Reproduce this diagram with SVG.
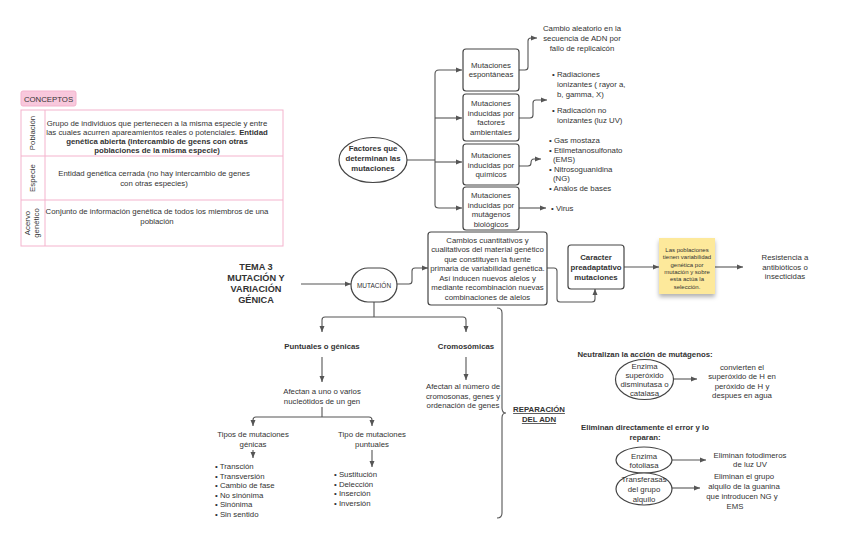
<svg xmlns="http://www.w3.org/2000/svg" width="848" height="540" viewBox="0 0 848 540">
<defs>
<marker id="ar" viewBox="0 0 6 6" refX="6" refY="3" markerWidth="6" markerHeight="6" markerUnits="userSpaceOnUse" orient="auto">
<path d="M0,0.5 L6,3 L0,5.5 z" fill="#555"/>
</marker>
<filter id="sh" x="-20%" y="-20%" width="140%" height="150%">
<feDropShadow dx="0" dy="3" stdDeviation="2" flood-color="#000" flood-opacity="0.3"/>
</filter>
</defs>
<style>
text{font-family:"Liberation Sans",Arial,sans-serif;font-size:7.8px;fill:#333}
.c{text-anchor:middle}
.b{font-weight:bold}
.box{fill:#fff;stroke:#444;stroke-width:1.2}
.ln{fill:none;stroke:#555;stroke-width:1.1}
.arr{fill:none;stroke:#555;stroke-width:1.1;marker-end:url(#ar)}
.pk{fill:none;stroke:#f4b3cd;stroke-width:1}
.sm{font-size:6px}
</style>
<rect width="848" height="540" fill="#fff"/>

<g id="conceptos">
<rect x="21" y="91" width="55" height="15" rx="2" fill="#f8c8dc" stroke="#f4b3cd"/>
<text x="48.5" y="102" class="c">CONCEPTOS</text>
<rect x="21" y="110" width="262" height="136" class="pk"/>
<line x1="45" y1="110" x2="45" y2="246" class="pk"/>
<line x1="21" y1="156" x2="283" y2="156" class="pk"/>
<line x1="21" y1="200" x2="283" y2="200" class="pk"/>
<text transform="translate(35,133) rotate(-90)" class="c">Población</text>
<text transform="translate(35,178) rotate(-90)" class="c">Especie</text>
<text transform="translate(30,223) rotate(-90)" class="c">Acervo</text>
<text transform="translate(39,223) rotate(-90)" class="c">genético</text>
<text x="157" y="126" class="c">Grupo de individuos que pertenecen a la misma especie y entre</text>
<text x="157" y="135" class="c">las cuales acurren apareamientos reales o potenciales. <tspan class="b">Entidad</tspan></text>
<text x="157" y="144" class="c b">genética abierta (intercambio de geens con otras</text>
<text x="157" y="153" class="c b">poblaciones de la misma especie)</text>
<text x="154" y="176" class="c">Entidad genética cerrada (no hay intercambio de genes</text>
<text x="154" y="186" class="c">con otras especies)</text>
<text x="157" y="214" class="c">Conjunto de información genética de todos los miembros de una</text>
<text x="157" y="224" class="c">población</text>
</g>

<g id="connectors">
<path class="ln" d="M407,160 H435 M435,74 V205"/>
<path class="arr" d="M435,74 Q435,70 439,70 H462"/>
<path class="arr" d="M435,118 H462"/>
<path class="arr" d="M435,162 H462"/>
<path class="arr" d="M435,205 Q435,208 439,208 H462"/>
<path class="arr" d="M519,70 H525 Q528,70 528,67 V41 Q528,38 531,38 H537"/>
<path class="arr" d="M519,118 H530 Q533,118 533,115 V103 Q533,100 536,100 H547"/>
<path class="arr" d="M519,166 H528 Q531,166 531,163 Q531,159 534,159 H541"/>
<path class="arr" d="M519,208 H546"/>
<path class="arr" d="M301,284 H351"/>
<path class="arr" d="M397,284 H409 Q412,284 412,281 V271 Q412,268 415,268 H428"/>
<path class="arr" d="M547,268 H554 Q557,268 557,271 V299 Q557,302 560,302 H592 Q595,302 595,299 V289"/>
<path class="arr" d="M624,267 H659"/>
<path class="arr" d="M715,267 H743"/>
<path class="ln" d="M374,302 V317 M325,317 H463"/>
<path class="arr" d="M325,317 Q322,317 322,320 V332"/>
<path class="arr" d="M463,317 Q466,317 466,320 V332"/>
<path class="arr" d="M322,357 V382"/>
<path class="arr" d="M466,357 V380"/>
<path class="ln" d="M322,407 V417 M256,417 H369"/>
<path class="arr" d="M256,417 Q253,417 253,420 V426"/>
<path class="arr" d="M369,417 Q372,417 372,420 V426"/>
<path class="arr" d="M253,450 V458"/>
<path class="arr" d="M372,450 V467"/>
<path class="ln" d="M497,308 Q502,308 502,313 V408 Q502,413 506,413 Q502,413 502,418 V513 Q502,518 497,518"/>
<path class="arr" d="M673,379 H697"/>
<path class="arr" d="M672,460 H706"/>
<path class="arr" d="M672,488 H700"/>
</g>

<g id="factores">
<ellipse cx="373" cy="160" rx="34" ry="22.5" class="box"/>
<text x="373" y="151" class="c b">Factores que</text>
<text x="373" y="161" class="c b">determinan las</text>
<text x="373" y="171" class="c b">mutaciones</text>
</g>

<g id="espontaneas">
<rect x="463" y="49" width="56" height="42" rx="3" class="box"/>
<text x="491" y="68" class="c">Mutaciones</text>
<text x="491" y="77" class="c">espontáneas</text>
</g>
<g id="ambientales">
<rect x="463" y="94" width="56" height="47" rx="3" class="box"/>
<text x="491" y="106" class="c">Mutaciones</text>
<text x="491" y="115.5" class="c">inducidas por</text>
<text x="491" y="125" class="c">factores</text>
<text x="491" y="134.5" class="c">ambientales</text>
</g>
<g id="quimicos">
<rect x="463" y="144" width="56" height="41" rx="3" class="box"/>
<text x="491" y="158" class="c">Mutaciones</text>
<text x="491" y="167.5" class="c">inducidas por</text>
<text x="491" y="177" class="c">químicos</text>
</g>
<g id="biologicos">
<rect x="463" y="187" width="56" height="43" rx="3" class="box"/>
<text x="491" y="198" class="c">Mutaciones</text>
<text x="491" y="207.5" class="c">inducidas por</text>
<text x="491" y="217" class="c">mutágenos</text>
<text x="491" y="226.5" class="c">biológicos</text>
</g>

<g id="cambio-aleatorio">
<text x="582" y="31" class="c">Cambio aleatorio en la</text>
<text x="582" y="41" class="c">secuencia de ADN por</text>
<text x="582" y="51" class="c">fallo de replicaicón</text>
</g>
<g id="radiaciones">
<text x="552" y="77">• Radiaciones</text>
<text x="557" y="87">ionizantes ( rayor a,</text>
<text x="557" y="97">b, gamma, X)</text>
<text x="552" y="113">• Radicación no</text>
<text x="557" y="123">ionizantes (luz UV)</text>
</g>
<g id="quimicos-lista">
<text x="549" y="143">• Gas mostaza</text>
<text x="549" y="152.5">• Etilmetanosulfonato</text>
<text x="553" y="162">(EMS)</text>
<text x="549" y="171.5">• Nitrosoguanidina</text>
<text x="553" y="181">(NG)</text>
<text x="549" y="190.5">• Análos de bases</text>
</g>
<g id="virus">
<text x="551" y="211">• Virus</text>
</g>

<g id="tema">
<text x="256" y="270" class="c b" style="font-size:9.2px">TEMA 3</text>
<text x="256" y="281" class="c b" style="font-size:9.2px">MUTACIÓN Y</text>
<text x="256" y="292" class="c b" style="font-size:9.2px">VARIACIÓN</text>
<text x="256" y="303" class="c b" style="font-size:9.2px">GÉNICA</text>
</g>

<g id="mutacion">
<rect x="351" y="268" width="46" height="34" rx="17" class="box"/>
<text x="374" y="287.5" class="c" style="font-size:6.5px">MUTACIÓN</text>
</g>

<g id="cambios">
<rect x="428" y="232" width="119" height="73" rx="3" class="box"/>
<text x="487.5" y="242.5" class="c">Cambios cuantitativos y</text>
<text x="487.5" y="252" class="c">cualitativos del material genético</text>
<text x="487.5" y="261.5" class="c">que constituyen la fuente</text>
<text x="487.5" y="271" class="c">primaria de variabilidad genética.</text>
<text x="487.5" y="280.5" class="c">Así inducen nuevos alelos y</text>
<text x="487.5" y="290" class="c">mediante recombinación nuevas</text>
<text x="487.5" y="299.5" class="c">combinaciones de alelos</text>
</g>

<g id="caracter">
<rect x="568" y="245" width="56" height="44" rx="3" class="box"/>
<text x="596" y="260" class="c b">Caracter</text>
<text x="596" y="270" class="c b">preadaptativo</text>
<text x="596" y="280" class="c b">mutaciones</text>
</g>

<g id="nota">
<rect x="659" y="238" width="56" height="56" fill="#fde99b" filter="url(#sh)"/>
<text x="687" y="252" class="c sm">Las poblaciones</text>
<text x="687" y="259.3" class="c sm">tienen variabilidad</text>
<text x="687" y="266.6" class="c sm">genética por</text>
<text x="687" y="273.9" class="c sm">mutación y sobre</text>
<text x="687" y="281.2" class="c sm">esta actúa la</text>
<text x="687" y="288.5" class="c sm">selección.</text>
</g>

<g id="resistencia">
<text x="785" y="260" class="c">Resistencia a</text>
<text x="785" y="269.5" class="c">antibióticos o</text>
<text x="785" y="279" class="c">insecticidas</text>
</g>

<g id="puntuales">
<text x="322" y="349" class="c b">Puntuales o génicas</text>
</g>
<g id="cromosomicas">
<text x="466" y="349" class="c b">Cromosómicas</text>
</g>
<g id="afectan-gen">
<text x="322" y="394" class="c">Afectan a uno o varios</text>
<text x="322" y="404" class="c">nucleótidos de un gen</text>
</g>
<g id="afectan-numero">
<text x="463" y="389" class="c">Afectan al número de</text>
<text x="463" y="398.5" class="c">cromosonas, genes y</text>
<text x="463" y="408" class="c">ordenación de genes</text>
</g>
<g id="tipos-genicas">
<text x="253" y="437" class="c">Tipos de mutaciones</text>
<text x="253" y="447" class="c">génicas</text>
</g>
<g id="lista-genicas">
<text x="215" y="469">• Transción</text>
<text x="215" y="478.5">• Transversión</text>
<text x="215" y="488">• Cambio de fase</text>
<text x="215" y="497.5">• No sinónima</text>
<text x="215" y="507">• Sinónima</text>
<text x="215" y="516.5">• Sin sentido</text>
</g>
<g id="tipo-puntuales">
<text x="372" y="437" class="c">Tipo de mutaciones</text>
<text x="372" y="447" class="c">puntuales</text>
</g>
<g id="lista-puntuales">
<text x="334" y="477">• Sustitución</text>
<text x="334" y="486.5">• Delección</text>
<text x="334" y="496">• Inserción</text>
<text x="334" y="505.5">• Inversión</text>
</g>

<g id="reparacion">
<text x="539" y="412" class="c b" text-decoration="underline">REPARACIÓN</text>
<text x="539" y="422" class="c b" text-decoration="underline">DEL ADN</text>
</g>

<g id="neutralizan">
<text x="645" y="357" class="c b">Neutralizan la acción de mutágenos:</text>
</g>
<g id="superoxido">
<ellipse cx="644.5" cy="379.5" rx="29" ry="20" class="box"/>
<text x="644.5" y="368.5" class="c">Enzima</text>
<text x="644.5" y="377.5" class="c">superóxido</text>
<text x="644.5" y="386.5" class="c">disminutasa o</text>
<text x="644.5" y="395.5" class="c">catalasa</text>
</g>
<g id="convierten">
<text x="742" y="369.5" class="c">convierten el</text>
<text x="742" y="379" class="c">superóxido de H en</text>
<text x="742" y="388.5" class="c">peróxido de H y</text>
<text x="742" y="398" class="c">despues en agua</text>
</g>
<g id="eliminan">
<text x="645" y="430" class="c b">Eliminan directamente el error y lo</text>
<text x="645" y="440" class="c b">reparan:</text>
</g>
<g id="fotoliasa">
<ellipse cx="644" cy="460" rx="28" ry="13" class="box"/>
<text x="644" y="458.5" class="c">Enzima</text>
<text x="644" y="468" class="c">fotoliasa</text>
</g>
<g id="transferasas">
<ellipse cx="644" cy="489" rx="28" ry="16" class="box"/>
<text x="644" y="482" class="c">Transferasas</text>
<text x="644" y="492" class="c">del grupo</text>
<text x="644" y="502" class="c">alquilo</text>
</g>
<g id="fotodimeros">
<text x="750" y="457.5" class="c">Eliminan fotodimeros</text>
<text x="750" y="467" class="c">de luz UV</text>
</g>
<g id="alquilo">
<text x="744" y="479" class="c">Eliminan el grupo</text>
<text x="744" y="489" class="c">alquilo de la guanina</text>
<text x="742" y="499" class="c">que introducen NG y</text>
<text x="735" y="509" class="c">EMS</text>
</g>
</svg>
